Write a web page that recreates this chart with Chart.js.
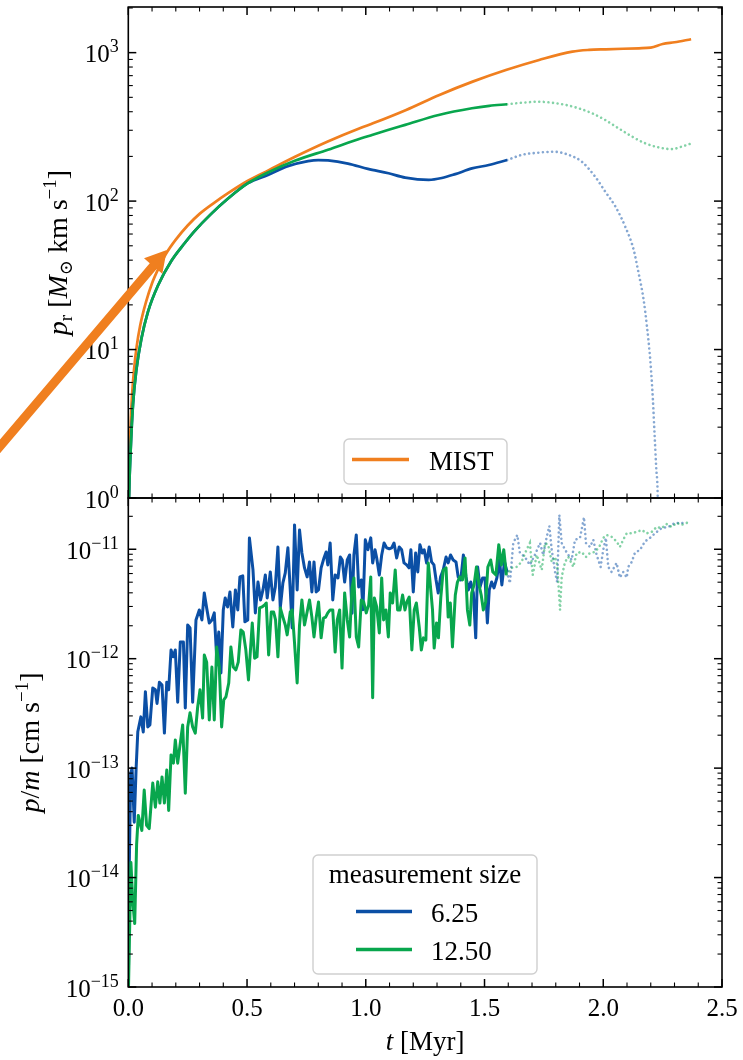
<!DOCTYPE html>
<html>
<head>
<meta charset="utf-8">
<title>Radial momentum and p/m versus time</title>
<script src="https://cdn.jsdelivr.net/npm/chart.js@4.4.1/dist/chart.umd.min.js"></script>
<style>
  html, body { margin: 0; padding: 0; background: #fff; }
  #wrap { position: relative; width: 743px; height: 1060px; }
  #wrap canvas { position: absolute; left: 0; top: 0; }
</style>
</head>
<body>
<div id="wrap">
  <canvas id="topPanel" width="743" height="1060"></canvas>
  <canvas id="bottomPanel" width="743" height="1060"></canvas>
</div>
<script>
// ---- data: [t (Myr), value] ----

// top panel: p_r in Msun km/s
const mistPr = [[0.000, 0.5], [0.002, 1.0], [0.005, 1.8], [0.010, 3.2], [0.016, 5.0], [0.024, 7.3], [0.035, 10.4],
  [0.050, 14.5], [0.075, 21], [0.100, 28], [0.130, 36], [0.160, 44.5], [0.200, 55], [0.250, 68.5], [0.300, 82],
  [0.360, 97], [0.420, 113], [0.500, 136], [0.580, 158], [0.700, 198], [0.840, 252], [0.980, 312], [1.030, 334],
  [1.170, 411], [1.310, 519], [1.450, 638], [1.590, 764], [1.730, 893], [1.870, 1016], [1.940, 1043], [2.010, 1053],
  [2.150, 1070], [2.200, 1080], [2.250, 1144], [2.300, 1175], [2.370, 1231]];

const smallPr = [[0.000, 0.5], [0.003, 1.0], [0.010, 2.1], [0.020, 4.3], [0.034, 7.3], [0.055, 11.8], [0.083, 18],
  [0.125, 27], [0.181, 39.5], [0.237, 52], [0.280, 63], [0.349, 82], [0.420, 104], [0.504, 132], [0.588, 150],
  [0.672, 172], [0.757, 186], [0.800, 189], [0.841, 188], [0.925, 179], [1.009, 165], [1.096, 154], [1.166, 144],
  [1.265, 139], [1.320, 143], [1.377, 152], [1.447, 166], [1.518, 175], [1.595, 189]];
const smallPrLate = [[1.595, 189], [1.658, 205], [1.728, 212], [1.791, 215], [1.854, 205], [1.910, 184], [1.966, 146],
  [2.008, 116], [2.051, 92], [2.093, 67], [2.128, 47], [2.149, 32.6], [2.170, 21.6], [2.184, 14.3], [2.198, 8.5],
  [2.209, 4.6], [2.216, 2.7], [2.223, 1.6], [2.229, 1.07], [2.232, 0.5]];

const largePr = [[0.000, 0.5], [0.003, 1.0], [0.010, 2.1], [0.020, 4.3], [0.034, 7.3], [0.055, 11.8], [0.083, 18],
  [0.125, 27], [0.181, 39.5], [0.237, 52], [0.280, 63], [0.349, 82], [0.420, 104], [0.504, 132], [0.588, 156],
  [0.701, 187], [0.841, 222], [0.981, 265], [1.026, 279], [1.093, 301], [1.166, 326], [1.307, 380], [1.447, 422],
  [1.520, 438], [1.595, 449]];
const largePrLate = [[1.595, 449], [1.658, 460], [1.728, 467], [1.784, 460], [1.840, 445], [1.896, 422], [1.952, 391],
  [2.008, 352], [2.065, 309], [2.121, 272], [2.177, 245], [2.233, 230], [2.289, 224], [2.331, 233], [2.366, 243]];

// bottom panel: p/m, values in units of 1e-12 cm/s
const PM_UNIT = 1e-12;
const smallPm = [[0.000, 0.0008], [0.004, 0.012], [0.010, 0.09], [0.016, 0.1], [0.025, 0.032], [0.033, 0.1],
  [0.040, 0.215], [0.053, 0.294], [0.063, 0.214], [0.072, 0.50], [0.082, 0.238], [0.091, 0.248], [0.103, 0.54],
  [0.114, 0.52], [0.121, 0.39], [0.131, 0.61], [0.142, 0.575], [0.152, 0.209], [0.162, 0.61], [0.170, 0.52],
  [0.180, 1.20], [0.189, 1.04], [0.198, 1.20], [0.208, 0.40], [0.219, 1.42], [0.232, 1.42], [0.240, 0.354],
  [0.250, 2.03], [0.260, 1.91], [0.271, 0.40], [0.285, 2.26], [0.299, 2.79], [0.310, 2.26], [0.320, 3.99],
  [0.330, 2.91], [0.341, 2.12], [0.352, 2.26], [0.362, 2.62], [0.372, 1.04], [0.381, 1.75], [0.390, 0.74],
  [0.400, 2.79], [0.408, 3.59], [0.418, 2.97], [0.428, 4.07], [0.440, 1.95], [0.451, 4.25], [0.461, 2.79],
  [0.470, 5.59], [0.482, 5.71], [0.491, 2.17], [0.503, 2.26], [0.510, 12.7], [0.525, 6.47], [0.535, 2.62],
  [0.546, 5.02], [0.557, 3.44], [0.567, 4.25], [0.577, 5.83], [0.585, 3.59], [0.598, 6.21], [0.609, 3.44],
  [0.619, 4.52], [0.630, 10.5], [0.640, 2.91], [0.651, 4.92], [0.661, 6.08], [0.672, 10.3], [0.682, 4.25],
  [0.690, 1.91], [0.700, 16.7], [0.711, 4.25], [0.721, 15.0], [0.731, 9.25], [0.742, 6.75], [0.753, 5.59],
  [0.763, 7.66], [0.773, 4.07], [0.782, 7.66], [0.791, 4.07], [0.801, 4.25], [0.812, 6.75], [0.824, 8.33],
  [0.833, 9.45], [0.840, 7.19], [0.850, 11.4], [0.861, 3.44], [0.871, 5.83], [0.883, 5.47], [0.893, 8.5],
  [0.901, 7.98], [0.911, 5.02], [0.922, 7.98], [0.932, 8.87], [0.942, 2.6], [0.950, 8.87], [0.960, 13.5],
  [0.970, 4.52], [0.981, 5.24], [0.988, 2.8], [0.998, 12.2], [1.009, 9.9], [1.021, 12.7], [1.029, 7.5],
  [1.039, 9.9], [1.046, 8.33], [1.057, 5.83], [1.067, 8.87], [1.077, 11.4], [1.088, 10.3], [1.099, 10.1],
  [1.109, 10.3], [1.119, 11.4], [1.130, 8.33], [1.141, 10.5], [1.151, 9.9], [1.161, 7.5], [1.172, 7.19],
  [1.182, 6.75], [1.190, 9.9], [1.200, 4.07], [1.210, 9.25], [1.219, 6.21], [1.228, 11.0], [1.238, 9.25],
  [1.246, 9.9], [1.256, 7.5], [1.267, 10.5], [1.277, 7.66], [1.287, 7.19], [1.296, 5.24], [1.305, 3.99],
  [1.315, 5.59], [1.326, 6.47], [1.338, 8.5], [1.347, 7.5], [1.357, 8.87], [1.368, 7.98], [1.380, 7.66],
  [1.389, 5.59], [1.400, 5.24], [1.411, 8.87], [1.422, 5.59], [1.432, 4.25], [1.442, 5.02], [1.453, 3.99],
  [1.463, 1.55], [1.471, 6.89], [1.481, 4.52], [1.492, 5.47], [1.502, 5.47], [1.512, 2.12], [1.520, 4.25],
  [1.530, 5.02], [1.540, 4.43], [1.552, 5.47], [1.563, 7.98], [1.573, 4.72], [1.584, 7.66], [1.595, 6.21]];
const smallPmLate = [[1.595, 6.21], [1.607, 4.9], [1.621, 11.4], [1.638, 13.5], [1.649, 9.25], [1.670, 8.5],
  [1.691, 7.19], [1.712, 8.87], [1.734, 11.4], [1.747, 8.87], [1.762, 13], [1.773, 16.3], [1.783, 9.9], [1.797, 6.2],
  [1.806, 5.0], [1.815, 20.6], [1.825, 11.4], [1.839, 9.9], [1.853, 8.87], [1.867, 7.98], [1.881, 12.2],
  [1.902, 12.7], [1.919, 19.6], [1.927, 11.4], [1.944, 10.5], [1.958, 12.2], [1.972, 8.87], [1.989, 6.89],
  [2.000, 9.9], [2.011, 12.7], [2.021, 6.9], [2.035, 6.2], [2.056, 7.5], [2.070, 5.5], [2.084, 6.2], [2.099, 5.5],
  [2.105, 6.9], [2.120, 7.66], [2.133, 9.25], [2.155, 9.9], [2.176, 11.8], [2.197, 12.7], [2.218, 14],
  [2.246, 15.6], [2.274, 16], [2.302, 17.4], [2.323, 17.4], [2.351, 17.4]];

const largePm = [[0.000, 0.0008], [0.011, 0.0137], [0.019, 0.006], [0.027, 0.0038], [0.035, 0.02], [0.042, 0.037],
  [0.057, 0.027], [0.067, 0.063], [0.077, 0.030], [0.088, 0.028], [0.103, 0.073], [0.114, 0.044], [0.124, 0.075],
  [0.133, 0.048], [0.142, 0.083], [0.152, 0.048], [0.162, 0.096], [0.170, 0.041], [0.180, 0.132], [0.190, 0.111],
  [0.198, 0.181], [0.208, 0.111], [0.219, 0.17], [0.229, 0.248], [0.240, 0.059], [0.250, 0.238], [0.260, 0.32],
  [0.271, 0.238], [0.282, 0.209], [0.292, 0.36], [0.302, 0.52], [0.313, 0.287], [0.320, 1.08], [0.330, 0.93],
  [0.341, 0.275], [0.352, 0.84], [0.362, 0.275], [0.372, 1.28], [0.383, 0.84], [0.393, 0.238], [0.402, 0.42],
  [0.411, 0.447], [0.423, 0.60], [0.432, 1.28], [0.442, 0.84], [0.453, 0.79], [0.463, 0.93], [0.474, 1.83],
  [0.484, 1.75], [0.495, 1.20], [0.506, 0.64], [0.522, 2.12], [0.532, 1.01], [0.542, 1.04], [0.553, 2.91],
  [0.563, 2.97], [0.574, 3.10], [0.581, 3.23], [0.591, 1.08], [0.602, 2.67], [0.612, 2.67], [0.620, 2.26],
  [0.630, 1.04], [0.640, 2.91], [0.651, 2.40], [0.661, 2.03], [0.669, 1.65], [0.682, 2.67], [0.690, 2.79],
  [0.700, 1.39], [0.711, 0.60], [0.721, 2.03], [0.731, 3.44], [0.742, 2.03], [0.753, 2.67], [0.763, 3.44],
  [0.773, 2.40], [0.782, 1.58], [0.791, 2.35], [0.801, 3.30], [0.812, 1.55], [0.822, 2.35], [0.831, 2.40],
  [0.840, 2.62], [0.850, 2.79], [0.861, 2.79], [0.871, 1.15], [0.880, 2.26], [0.890, 2.79], [0.900, 0.82],
  [0.911, 3.99], [0.922, 2.26], [0.932, 1.58], [0.942, 4.43], [0.950, 5.47], [0.960, 1.58], [0.970, 1.28],
  [0.981, 3.44], [0.991, 3.30], [1.002, 2.62], [1.012, 3.10], [1.021, 5.59], [1.029, 0.44], [1.036, 3.59],
  [1.046, 2.97], [1.057, 1.72], [1.067, 5.47], [1.075, 2.26], [1.085, 2.79], [1.095, 1.58], [1.103, 3.99],
  [1.113, 3.23], [1.124, 6.47], [1.134, 2.79], [1.144, 2.79], [1.155, 3.82], [1.165, 2.79], [1.173, 3.30],
  [1.183, 3.66], [1.194, 1.20], [1.204, 2.79], [1.213, 3.23], [1.225, 1.95], [1.234, 1.20], [1.243, 1.55],
  [1.253, 1.48], [1.263, 7.5], [1.271, 4.92], [1.281, 2.79], [1.288, 1.25], [1.298, 2.12], [1.306, 1.55],
  [1.316, 3.66], [1.326, 6.47], [1.338, 6.75], [1.347, 2.40], [1.356, 3.23], [1.365, 1.28], [1.377, 3.82],
  [1.386, 5.02], [1.396, 5.59], [1.407, 5.24], [1.418, 8.33], [1.428, 2.79], [1.438, 2.03], [1.446, 3.99],
  [1.456, 4.72], [1.466, 6.89], [1.477, 4.72], [1.486, 3.82], [1.495, 2.79], [1.505, 3.30], [1.514, 6.89],
  [1.526, 7.98], [1.535, 6.21], [1.548, 5.83], [1.560, 11], [1.571, 7.19], [1.581, 9.9], [1.592, 5.83]];
const largePmLate = [[1.592, 5.83], [1.614, 6.75], [1.635, 6.9], [1.656, 7.66], [1.677, 9.9], [1.691, 11.4],
  [1.703, 5.83], [1.720, 8.87], [1.741, 6.47], [1.755, 11.4], [1.768, 11], [1.783, 7.66], [1.797, 8.5],
  [1.806, 7.19], [1.818, 2.79], [1.825, 5.6], [1.839, 7.66], [1.853, 8.5], [1.874, 6.9], [1.888, 9.25],
  [1.909, 9.45], [1.927, 8.5], [1.944, 9.25], [1.965, 9.45], [1.983, 10.5], [2.000, 12.7], [2.014, 13.5],
  [2.035, 13], [2.056, 11.8], [2.070, 10.5], [2.084, 12.2], [2.099, 14], [2.120, 14], [2.141, 14.4], [2.162, 15],
  [2.183, 14], [2.204, 14.4], [2.225, 16], [2.246, 15.6], [2.267, 17], [2.288, 16], [2.309, 17.4], [2.330, 16.7],
  [2.351, 17.4], [2.365, 17.7]];

const sizeLabels = ['6.25', '12.50'];
const xTicks = [0.0, 0.5, 1.0, 1.5, 2.0, 2.5];

// ---- styling ----
const ORANGE = '#f07f1f';
const BLUE = '#0b4fa5';
const GREEN = '#08a64d';
const BLUE_FADED = 'rgba(11,79,165,0.5)';
const GREEN_FADED = 'rgba(8,166,77,0.5)';
const SERIF = '"Liberation Serif", "DejaVu Serif", serif';

function fontOf(p) {
  return (p.it ? 'italic ' : '') + p.s + 'px ' + SERIF;
}

// draws a run of text pieces (for sub/superscripts) on one baseline
function richText(ctx, parts, x, y, align) {
  let w = 0;
  parts.forEach(p => { ctx.font = fontOf(p); p.w = ctx.measureText(p.t).width; w += p.w; });
  let cx = align === 'right' ? x - w : align === 'center' ? x - w / 2 : x;
  ctx.textAlign = 'left';
  ctx.textBaseline = 'alphabetic';
  parts.forEach(p => { ctx.font = fontOf(p); ctx.fillText(p.t, cx, y + (p.dy || 0)); cx += p.w; });
}

function supText(e) {
  return String(e).replace('-', '\u2212');
}

// matplotlib-like frame: inward ticks on all sides, log minor ticks, labels, legend, arrow
const mplAxes = {
  id: 'mplAxes',
  afterDraw(chart, args, opts) {
    const { ctx, chartArea: a } = chart;
    const xs = chart.scales.x, ys = chart.scales.y;
    ctx.save();
    ctx.strokeStyle = '#000';
    ctx.fillStyle = '#000';
    const seg = (x1, y1, x2, y2, w) => {
      ctx.lineWidth = w; ctx.beginPath(); ctx.moveTo(x1, y1); ctx.lineTo(x2, y2); ctx.stroke();
    };

    // x ticks: minor every 0.1, major at the labelled ticks
    for (let i = 0; i <= 25; i++) {
      const v = i / 10;
      const px = xs.getPixelForValue(v);
      const major = xTicks.some(t => Math.abs(t - v) < 1e-9);
      const L = major ? 8 : 4.5, w = major ? 1.5 : 1.1;
      seg(px, a.bottom, px, a.bottom - L, w);
      seg(px, a.top, px, a.top + L, w);
      if (major && opts.xTickLabels) {
        ctx.font = '25px ' + SERIF;
        ctx.textAlign = 'center';
        ctx.textBaseline = 'alphabetic';
        ctx.fillText(v.toFixed(1), px, a.bottom + 29);
      }
    }

    // log y ticks
    const e0 = Math.floor(Math.log10(ys.min)) , e1 = Math.ceil(Math.log10(ys.max));
    for (let e = e0; e <= e1; e++) {
      for (let m = 1; m <= 9; m++) {
        const v = m * Math.pow(10, e);
        if (v < ys.min * 0.999 || v > ys.max * 1.001) continue;
        const py = ys.getPixelForValue(v);
        const major = m === 1;
        const L = major ? 8 : 4.5, w = major ? 1.5 : 1.1;
        seg(a.left, py, a.left + L, py, w);
        seg(a.right, py, a.right - L, py, w);
        if (major) {
          richText(ctx, [{ t: '10', s: 25 }, { t: supText(e), s: 18, dy: -10 }], a.left - 9.5, py + 9.5, 'right');
        }
      }
    }

    // frame
    ctx.lineWidth = 1.6;
    ctx.strokeRect(a.left, a.top, a.right - a.left, a.bottom - a.top);

    // axis titles
    if (opts.xTitle) {
      richText(ctx, opts.xTitle.parts, (a.left + a.right) / 2, opts.xTitle.y, 'center');
    }
    if (opts.yTitle) {
      ctx.save();
      ctx.translate(opts.yTitle.x, (a.top + a.bottom) / 2);
      ctx.rotate(-Math.PI / 2);
      richText(ctx, opts.yTitle.parts, 0, 0, 'center');
      ctx.restore();
    }

    // legend
    if (opts.legend) {
      const lg = opts.legend;
      const [x0, y0, x1, y1] = lg.box, r = 5;
      ctx.beginPath();
      ctx.moveTo(x0 + r, y0);
      ctx.arcTo(x1, y0, x1, y1, r);
      ctx.arcTo(x1, y1, x0, y1, r);
      ctx.arcTo(x0, y1, x0, y0, r);
      ctx.arcTo(x0, y0, x1, y0, r);
      ctx.closePath();
      ctx.fillStyle = 'rgba(255,255,255,0.85)';
      ctx.fill();
      ctx.strokeStyle = '#cfcfcf';
      ctx.lineWidth = 1.4;
      ctx.stroke();
      ctx.fillStyle = '#000';
      if (lg.title) {
        richText(ctx, [{ t: lg.title, s: 27 }], (x0 + x1) / 2, lg.titleY, 'center');
      }
      lg.items.forEach(it => {
        ctx.strokeStyle = it.color;
        seg(lg.lineX[0], it.y, lg.lineX[1], it.y, 3.6);
        ctx.fillStyle = '#000';
        richText(ctx, [{ t: it.label, s: 27 }], lg.textX, it.y + 10, 'left');
      });
    }

    // annotation arrow, placed in data coordinates
    if (opts.arrow) {
      const ar = opts.arrow;
      const x1 = xs.getPixelForValue(ar.from[0]), y1 = ys.getPixelForValue(ar.from[1]);
      const x2 = xs.getPixelForValue(ar.to[0]), y2 = ys.getPixelForValue(ar.to[1]);
      const len = Math.hypot(x2 - x1, y2 - y1);
      const ux = (x2 - x1) / len, uy = (y2 - y1) / len, nx = -uy, ny = ux;
      const bx = x2 - ux * ar.headL, by = y2 - uy * ar.headL;
      const sw = ar.shaft / 2, hw = ar.headW / 2;
      ctx.beginPath();
      ctx.moveTo(x1 + nx * sw, y1 + ny * sw);
      ctx.lineTo(bx + nx * sw, by + ny * sw);
      ctx.lineTo(bx + nx * hw, by + ny * hw);
      ctx.lineTo(x2, y2);
      ctx.lineTo(bx - nx * hw, by - ny * hw);
      ctx.lineTo(bx - nx * sw, by - ny * sw);
      ctx.lineTo(x1 - nx * sw, y1 - ny * sw);
      ctx.closePath();
      ctx.fillStyle = ar.color;
      ctx.fill();
    }
    ctx.restore();
  }
};

function toPoints(pairs, unit) {
  return pairs.map(([t, v]) => ({ x: t, y: v * unit }));
}
function solid(pairs, color, order, unit = 1, width = 2.7, smooth = false) {
  return { data: toPoints(pairs, unit), borderColor: color, borderWidth: width, order,
           cubicInterpolationMode: smooth ? 'monotone' : 'default',
           pointRadius: 0, fill: false, borderJoinStyle: 'round' };
}
function dotted(pairs, color, order, unit = 1, smooth = false) {
  return { data: toPoints(pairs, unit), borderColor: color, borderWidth: 2.6, order,
           cubicInterpolationMode: smooth ? 'monotone' : 'default',
           borderDash: [0.01, 4.6], borderCapStyle: 'round', pointRadius: 0, fill: false };
}

function panel(canvasId, datasets, yMin, yMax, padding, axesOpts) {
  return new Chart(document.getElementById(canvasId), {
    type: 'line',
    data: { datasets },
    options: {
      responsive: false,
      animation: false,
      devicePixelRatio: 1,
      layout: { padding },
      scales: {
        x: { type: 'linear', min: 0, max: 2.5, display: false },
        y: { type: 'logarithmic', min: yMin, max: yMax, display: false }
      },
      elements: { line: { tension: 0 } },
      plugins: { legend: { display: false }, tooltip: { enabled: false }, mplAxes: axesOpts }
    },
    plugins: [mplAxes]
  });
}

// top panel: p_r (smooth curves)
panel('topPanel', [
  solid(largePr, GREEN, 0, 1, 2.7, true),
  solid(smallPr, BLUE, 1, 1, 2.7, true),
  solid(mistPr, ORANGE, 2, 1, 2.7, true),
  dotted(largePrLate, GREEN_FADED, 3, 1, true),
  dotted(smallPrLate, BLUE_FADED, 4, 1, true)
], 1, 2030, { left: 128.3, right: 21, top: 7, bottom: 562 }, {
  xTickLabels: false,
  yTitle: { x: 67, parts: [
    { t: 'p', it: true, s: 28 }, { t: 'r', s: 19, dy: 5 }, { t: ' [', s: 28 }, { t: 'M', it: true, s: 28 },
    { t: '\u2299', s: 18, dy: 5 }, { t: ' km s', s: 28 }, { t: '\u22121', s: 19, dy: -11 }, { t: ']', s: 28 }] },
  legend: { box: [344, 439, 507, 484], lineX: [352, 409], textX: 429,
            items: [{ color: ORANGE, label: 'MIST', y: 459.5 }] },
  arrow: { from: [-0.6, 1.72], to: [0.162, 46.8], shaft: 9, headW: 24, headL: 21, color: ORANGE }
});

// bottom panel: p/m (noisy curves)
panel('bottomPanel', [
  solid(largePm, GREEN, 0, PM_UNIT, 3.0),
  solid(smallPm, BLUE, 1, PM_UNIT, 3.0),
  dotted(largePmLate, GREEN_FADED, 2, PM_UNIT),
  dotted(smallPmLate, BLUE_FADED, 3, PM_UNIT)
], 1e-15, 2.94e-11, { left: 128.3, right: 21, top: 498, bottom: 73 }, {
  xTickLabels: true,
  xTitle: { y: 1050, parts: [{ t: 't', it: true, s: 27 }, { t: ' [Myr]', s: 27 }] },
  yTitle: { x: 39, parts: [
    { t: 'p', it: true, s: 28 }, { t: '/', s: 28 }, { t: 'm', it: true, s: 28 }, { t: ' [cm s', s: 28 },
    { t: '\u22121', s: 19, dy: -11 }, { t: ']', s: 28 }] },
  legend: { box: [313, 855, 537, 974], title: 'measurement size', titleY: 883, lineX: [356, 412], textX: 431,
            items: [{ color: BLUE, label: sizeLabels[0], y: 911.5 }, { color: GREEN, label: sizeLabels[1], y: 949.5 }] }
});
</script>
</body>
</html>
